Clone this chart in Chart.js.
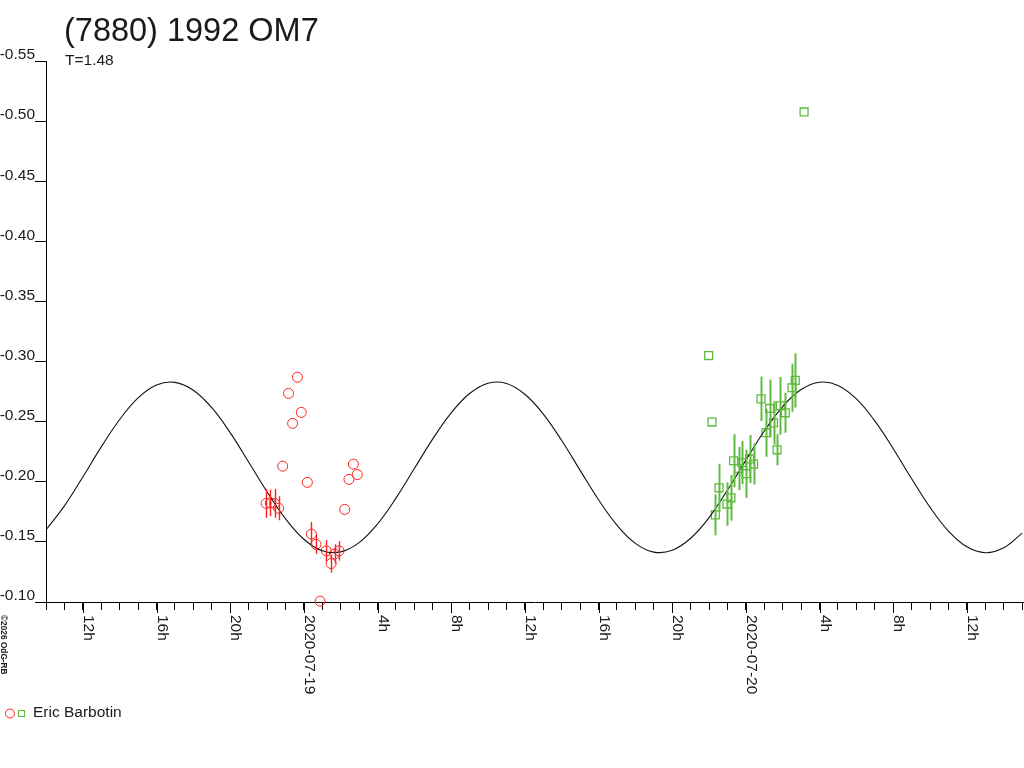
<!DOCTYPE html>
<html>
<head>
<meta charset="utf-8">
<title>(7880) 1992 OM7</title>
<script src="https://cdn.jsdelivr.net/npm/chart.js@4.4.1/dist/chart.umd.min.js"></script>
<style>
  html, body { margin: 0; padding: 0; background: #fff; }
  canvas { display: block; }
</style>
</head>
<body>
<canvas id="lcChart" width="1024" height="768"></canvas>
<script>
// x values are hours counted from 2020-07-19 0h UT
const curveHours = [-14, -13, -12, -11, -10, -9, -8, -7, -6, -5, -4, -3, -2, -1, 0, 1, 2, 3, 4, 5,
  6, 7, 8, 9, 10, 11, 12, 13, 14, 15, 16, 17, 18, 19, 20, 21, 22, 23, 24, 25, 26, 27, 28, 29,
  30, 31, 32, 33, 34, 35, 36, 37, 38, 39];
const curveMag = [-0.1600, -0.1800, -0.2040, -0.2290, -0.2518, -0.2698, -0.2805, -0.2827, -0.2761, -0.2616,
  -0.2409, -0.2165, -0.1917, -0.1693, -0.1522, -0.1426, -0.1417, -0.1494, -0.1649, -0.1864,
  -0.2110, -0.2357, -0.2573, -0.2734, -0.2820, -0.2818, -0.2728, -0.2563, -0.2343, -0.2095,
  -0.1850, -0.1639, -0.1488, -0.1415, -0.1430, -0.1530, -0.1702, -0.1931, -0.2180, -0.2422,
  -0.2626, -0.2767, -0.2828, -0.2801, -0.2689, -0.2506, -0.2275, -0.2025, -0.1787, -0.1590,
  -0.1459, -0.1410, -0.1451, -0.1573];

// night 1 (red circles)
const redHours = [-2.05, -1.82, -1.59, -1.37, -1.15, -0.83, -0.61, -0.35, -0.14, 0.19, 0.41,
  0.66, 0.88, 1.22, 1.48, 1.67, 1.91, 2.22, 2.45, 2.69, 2.90];
const redMag = [-0.182, -0.1825, -0.182, -0.178, -0.213, -0.2735, -0.2486, -0.287, -0.2577, -0.1995, -0.1565,
  -0.148, -0.1007, -0.1425, -0.132, -0.140, -0.1425, -0.177, -0.202, -0.2147, -0.206];
const redErr = [0.012, 0.011, 0.012, 0.010, 0, 0, 0, 0, 0, 0, 0.010,
  0.008, 0, 0.009, 0.0075, 0.008, 0.008, 0, 0, 0, 0];

// night 2 (green squares)
const greenHours = [21.98, 22.16, 22.34, 22.54, 22.97, 23.19, 23.33, 23.60, 23.79, 24.01, 24.20, 24.42,
  24.82, 25.09, 25.29, 25.50, 25.69, 25.87, 26.14, 26.50, 26.68, 27.16];
const greenMag = [-0.305, -0.2497, -0.1725, -0.195, -0.1815, -0.1867, -0.2175, -0.211, -0.216, -0.2067, -0.219, -0.2147,
  -0.269, -0.2408, -0.261, -0.249, -0.2266, -0.2632, -0.2574, -0.2782, -0.2843, -0.5076];
const greenErr = [0, 0, 0.017, 0.020, 0.018, 0.019, 0.022, 0.018, 0.018, 0.020, 0.020, 0.017,
  0.0185, 0.020, 0.024, 0.018, 0.013, 0.024, 0.0166, 0.020, 0.0225, 0];

const yTicks = [-0.55, -0.50, -0.45, -0.40, -0.35, -0.30, -0.25, -0.20, -0.15, -0.10];
const labelHours = [-12, -8, -4, 0, 4, 8, 12, 16, 20, 24, 28, 32, 36];
const labelTexts = ['12h', '16h', '20h', '2020-07-19', '4h', '8h', '12h', '16h', '20h', '2020-07-20', '4h', '8h', '12h'];

const FONT = '"Liberation Sans", Arial, sans-serif';
const RED = 'rgb(255, 32, 32)';
const GREEN = 'rgb(96, 186, 64)';

const errorBars = {
  id: 'errorBars',
  afterDatasetsDraw(chart) {
    const ctx = chart.ctx;
    const ys = chart.scales.y;
    chart.data.datasets.forEach((ds, i) => {
      if (!ds.errors) return;
      const meta = chart.getDatasetMeta(i);
      ctx.save();
      ctx.strokeStyle = ds.borderColor;
      ctx.lineWidth = ds.errorWidth;
      meta.data.forEach((pt, j) => {
        const e = ds.errors[j];
        if (!e) return;
        const v = ds.data[j].y;
        ctx.beginPath();
        ctx.moveTo(Math.round(pt.x) + 0.5, ys.getPixelForValue(v - e));
        ctx.lineTo(Math.round(pt.x) + 0.5, ys.getPixelForValue(v + e));
        ctx.stroke();
      });
      ctx.restore();
    });
  }
};

const decorations = {
  id: 'decorations',
  afterDraw(chart) {
    const ctx = chart.ctx;
    const xs = chart.scales.x;
    const bottom = chart.chartArea.bottom;
    ctx.save();
    ctx.fillStyle = '#1a1a1a';
    ctx.textAlign = 'left';
    ctx.textBaseline = 'alphabetic';

    ctx.font = '32.5px ' + FONT;
    ctx.fillText('(7880) 1992 OM7', 64, 41);
    ctx.font = '15.5px ' + FONT;
    ctx.fillText('T=1.48', 65, 65);

    // longer ticks and rotated labels under the time axis
    ctx.strokeStyle = '#000';
    ctx.lineWidth = 1;
    labelHours.forEach((h, i) => {
      const px = Math.round(xs.getPixelForValue(h)) + 0.5;
      ctx.beginPath();
      ctx.moveTo(px, bottom);
      ctx.lineTo(px, bottom + 11);
      ctx.stroke();
      ctx.save();
      ctx.translate(px, bottom + 13);
      ctx.rotate(Math.PI / 2);
      ctx.font = '15.5px ' + FONT;
      ctx.fillText(labelTexts[i], 0, 0);
      ctx.restore();
    });

    // copyright
    ctx.save();
    ctx.translate(1, 615);
    ctx.rotate(Math.PI / 2);
    ctx.font = 'bold 8.3px ' + FONT;
    ctx.fillText('\u00a92026 OdG-RB', 0, 0);
    ctx.restore();

    // legend
    ctx.strokeStyle = RED;
    ctx.beginPath();
    ctx.arc(10, 713.5, 4.5, 0, Math.PI * 2);
    ctx.stroke();
    ctx.strokeStyle = GREEN;
    ctx.strokeRect(18.5, 710.5, 6, 6);
    ctx.font = '15.5px ' + FONT;
    ctx.textBaseline = 'middle';
    ctx.fillText('Eric Barbotin', 33, 713);
    ctx.restore();
  }
};

new Chart(document.getElementById('lcChart'), {
  data: {
    datasets: [
      {
        type: 'line',
        data: curveHours.map((h, i) => ({ x: h, y: curveMag[i] })),
        borderColor: '#111',
        borderWidth: 1.1,
        pointRadius: 0,
        tension: 0.4,
        fill: false
      },
      {
        type: 'scatter',
        data: redHours.map((h, i) => ({ x: h, y: redMag[i] })),
        errors: redErr,
        errorWidth: 1.4,
        pointStyle: 'circle',
        pointRadius: 5,
        borderColor: RED,
        backgroundColor: 'rgba(0,0,0,0)',
        borderWidth: 1,
        clip: false
      },
      {
        type: 'scatter',
        data: greenHours.map((h, i) => ({ x: h, y: greenMag[i] })),
        errors: greenErr,
        errorWidth: 2,
        pointStyle: 'rect',
        pointRadius: 5.6,
        borderColor: GREEN,
        backgroundColor: 'rgba(0,0,0,0)',
        borderWidth: 1.3,
        clip: false
      }
    ]
  },
  options: {
    responsive: false,
    animation: false,
    devicePixelRatio: 1,
    layout: { autoPadding: false, padding: { top: 61, left: 0, right: 0, bottom: 0 } },
    plugins: {
      legend: { display: false },
      title: { display: false },
      tooltip: { enabled: false }
    },
    scales: {
      x: {
        type: 'linear',
        min: -14,
        max: 39.1,
        border: { display: true, color: '#000', width: 1 },
        grid: { drawOnChartArea: false, color: '#000', tickLength: 8 },
        ticks: { display: false },
        afterBuildTicks: scale => {
          const t = [];
          for (let h = -14; h <= 39; h++) t.push({ value: h });
          scale.ticks = t;
        },
        afterFit: scale => { scale.height = 166; }
      },
      y: {
        type: 'linear',
        min: -0.55,
        max: -0.10,
        reverse: true,
        border: { display: true, color: '#000', width: 1 },
        grid: { drawOnChartArea: false, color: '#000', tickLength: 11 },
        ticks: {
          padding: 0,
          labelOffset: -6,
          color: '#1a1a1a',
          font: { family: FONT, size: 15.5 },
          callback: v => v.toFixed(2)
        },
        afterBuildTicks: scale => { scale.ticks = yTicks.map(v => ({ value: v })); },
        afterFit: scale => { scale.width = 46; }
      }
    }
  },
  plugins: [errorBars, decorations]
});
</script>
</body>
</html>
